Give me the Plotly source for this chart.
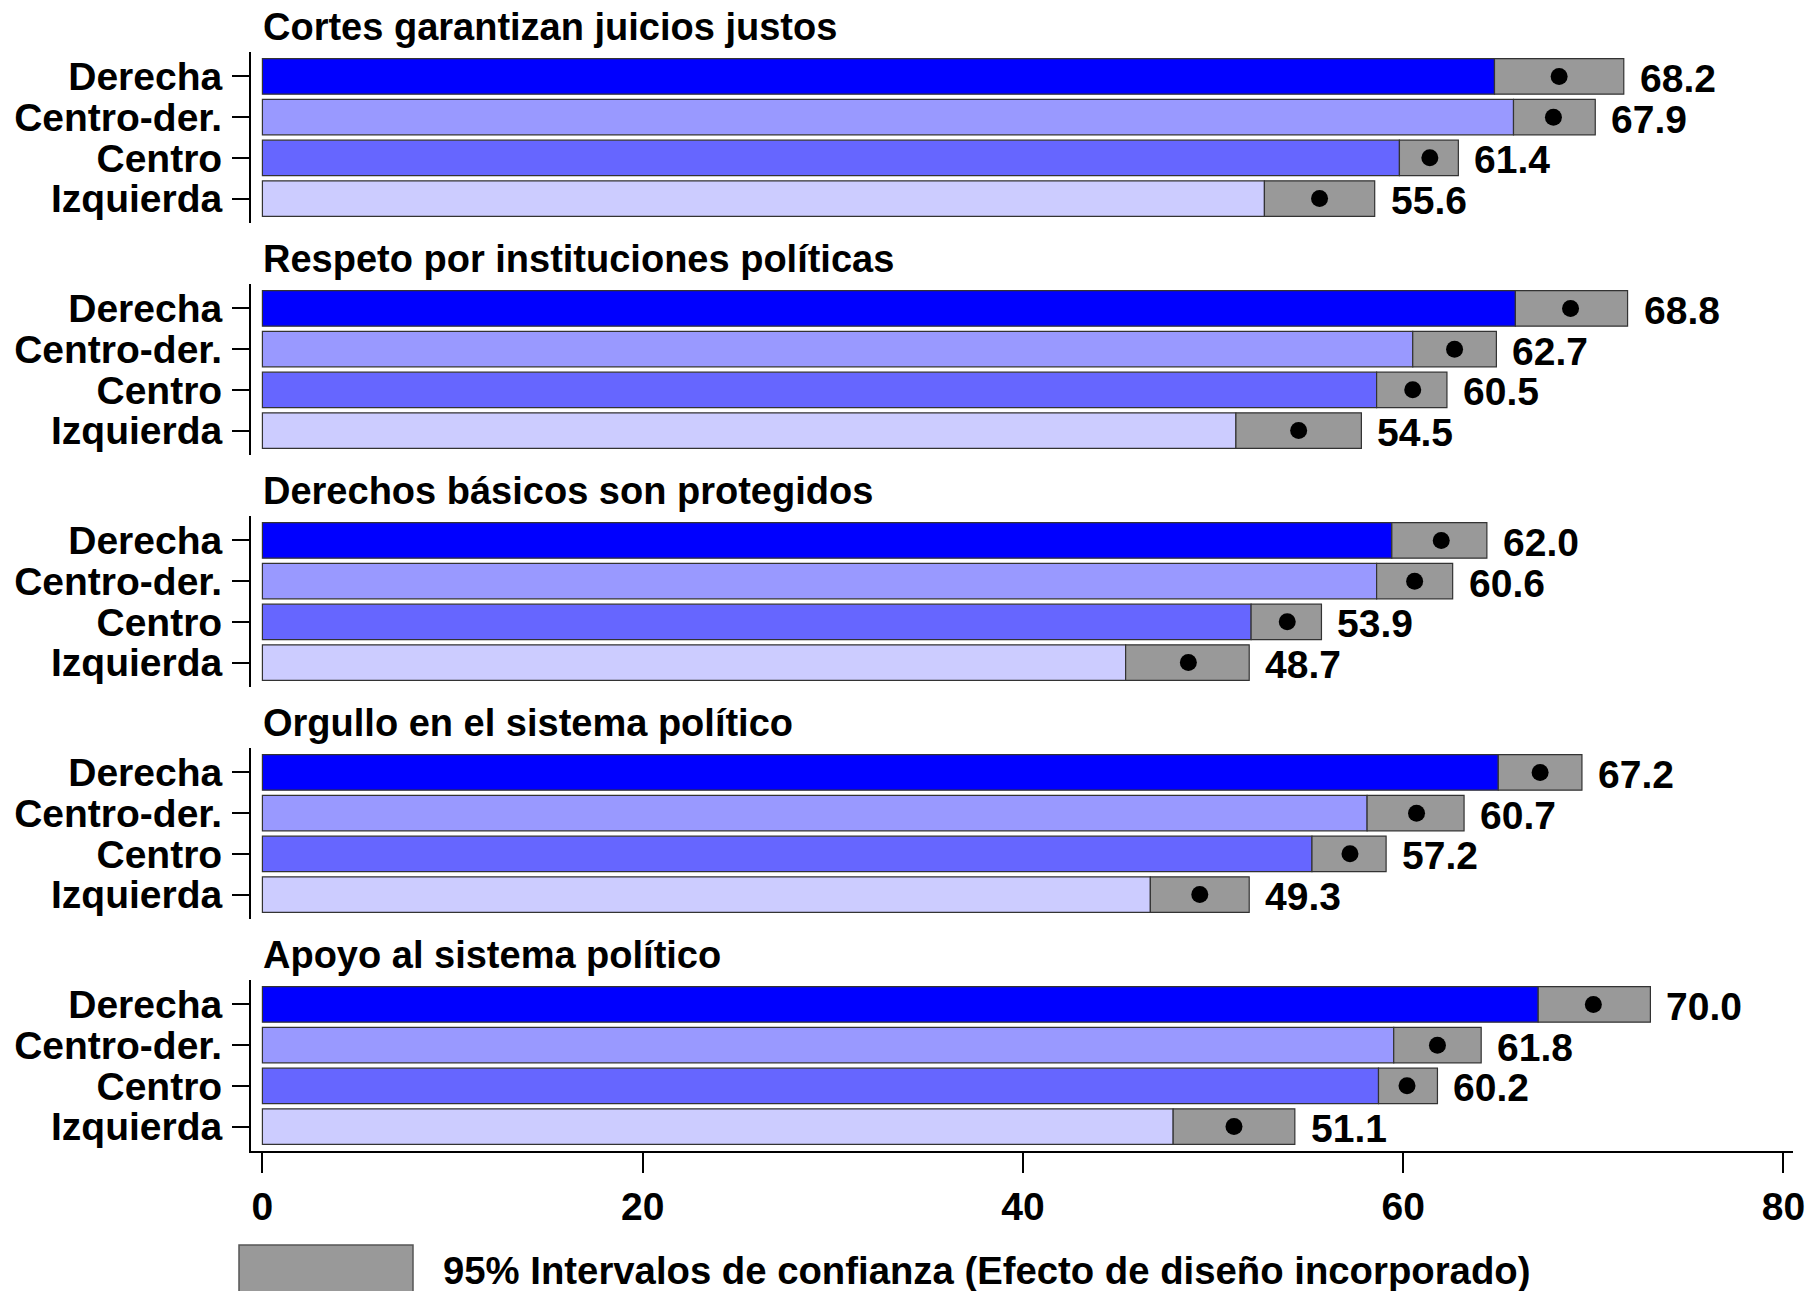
import plotly.graph_objects as go

groups = ["Derecha", "Centro-der.", "Centro", "Izquierda"]
titles = ["Cortes garantizan juicios justos",
          "Respeto por instituciones políticas",
          "Derechos básicos son protegidos",
          "Orgullo en el sistema político",
          "Apoyo al sistema político"]

mean_cortes = [68.2, 67.9, 61.4, 55.6]
mean_respeto = [68.8, 62.7, 60.5, 54.5]
mean_derechos = [62.0, 60.6, 53.9, 48.7]
mean_orgullo = [67.2, 60.7, 57.2, 49.3]
mean_apoyo = [70.0, 61.8, 60.2, 51.1]

low_cortes = [64.8, 65.8, 59.8, 52.7]
low_respeto = [65.9, 60.5, 58.6, 51.2]
low_derechos = [59.4, 58.6, 52.0, 45.4]
low_orgullo = [65.0, 58.1, 55.2, 46.7]
low_apoyo = [67.1, 59.5, 58.7, 47.9]

up_cortes = [71.6, 70.1, 62.9, 58.5]
up_respeto = [71.8, 64.9, 62.3, 57.8]
up_derechos = [64.4, 62.6, 55.7, 51.9]
up_orgullo = [69.4, 63.2, 59.1, 51.9]
up_apoyo = [73.0, 64.1, 61.8, 54.3]

x_ticks = [0, 20, 40, 60, 80]
legend_label = "95% Intervalos de confianza (Efecto de diseño incorporado)"

means = [mean_cortes, mean_respeto, mean_derechos, mean_orgullo, mean_apoyo]
lows = [low_cortes, low_respeto, low_derechos, low_orgullo, low_apoyo]
ups = [up_cortes, up_respeto, up_derechos, up_orgullo, up_apoyo]

colors = ["#0000FF", "#9999FF", "#6666FF", "#CCCCFF"]
gray = "#999999"
FONT = "Arial, Liberation Sans, sans-serif"
FS = 39

W, H = 1808, 1291
mt, ml, mr = 52, 251, 15
panel_h = 171
pitch = 232
plot_h = 4 * pitch + panel_h
mb = H - mt - plot_h

fig = go.Figure()
layout = dict(
    template="none",
    width=W, height=H,
    margin=dict(l=ml, r=mr, t=mt, b=mb, pad=0, autoexpand=False),
    paper_bgcolor="white", plot_bgcolor="white",
    font=dict(family=FONT, size=FS, color="black", weight="bold"),
    showlegend=False, barmode="overlay",
)
annotations = []
shapes = []

for i in range(5):
    n = "" if i == 0 else str(i + 1)
    xa, ya = "x" + n, "y" + n
    top = 1 - i * pitch / plot_h
    bot = top - panel_h / plot_h
    fig.add_trace(go.Bar(
        y=groups, x=lows[i], base=0, orientation="h", width=0.87,
        marker=dict(color=colors, line=dict(color="#333333", width=1.2)),
        xaxis=xa, yaxis=ya, hoverinfo="skip"))
    fig.add_trace(go.Bar(
        y=groups, x=[u - l for u, l in zip(ups[i], lows[i])], base=lows[i],
        orientation="h", width=0.87,
        marker=dict(color=gray, line=dict(color="#333333", width=1.2)),
        xaxis=xa, yaxis=ya, hoverinfo="skip"))
    fig.add_trace(go.Scatter(
        y=groups, x=means[i], mode="markers",
        marker=dict(color="black", size=17, line=dict(width=0)),
        xaxis=xa, yaxis=ya, hoverinfo="skip"))
    for g, u, m in zip(groups, ups[i], means[i]):
        annotations.append(dict(
            x=u, y=g, xref=xa, yref=ya, xanchor="left", yanchor="middle",
            xshift=14, yshift=-2, text=f"{m:.1f}", showarrow=False,
            font=dict(size=FS, family=FONT, weight="bold")))
    annotations.append(dict(
        x=0, y=top, xref=xa, yref="paper", xanchor="left", yanchor="middle",
        yshift=25, text=titles[i], showarrow=False, borderpad=0,
        font=dict(size=38, family=FONT, weight="bold")))

    last = (i == 4)
    layout["xaxis" + n] = dict(
        domain=[0, 1], range=[-0.6, 80.5], anchor=ya, automargin=False,
        showgrid=False, zeroline=False,
        showline=last, linecolor="black", linewidth=2,
        ticks="outside" if last else "", ticklen=20, tickwidth=2, tickcolor="black",
        tickmode="array", tickvals=x_ticks, showticklabels=last,
        tickfont=dict(size=FS, family=FONT, weight="bold"),
        ticklabelstandoff=0,
        matches=None if i == 0 else "x",
    )
    layout["yaxis" + n] = dict(
        domain=[bot, top], anchor=xa, type="category", automargin=False,
        categoryorder="array", categoryarray=groups,
        tickmode="array", tickvals=groups, ticktext=groups,
        range=[3.6, -0.6], showgrid=False, zeroline=False,
        showline=True, linecolor="black", linewidth=2,
        ticks="outside", ticklen=17, tickwidth=2, tickcolor="black",
        tickfont=dict(size=FS, family=FONT, weight="bold"),
        ticklabelstandoff=2,
    )

px_w = W - ml - mr
def xp(px):
    return (px - ml) / px_w
def yp(py):
    return (H - mb - py) / plot_h

shapes.append(dict(type="rect", xref="paper", yref="paper",
                   x0=xp(239), x1=xp(413), y0=yp(1245), y1=yp(1300),
                   fillcolor=gray, line=dict(color="#555555", width=1.5)))
annotations.append(dict(x=xp(442), y=yp(1270), xref="paper", yref="paper",
                        xanchor="left", yanchor="middle", text=legend_label,
                        showarrow=False, borderpad=0,
                        font=dict(size=38.3, family=FONT, weight="bold")))

layout["annotations"] = annotations
layout["shapes"] = shapes
fig.update_layout(**layout)
fig.write_html("out.html",
               config={"displayModeBar": False, "staticPlot": True},
               post_script="document.body.style.margin='0';"
                           "document.documentElement.style.overflow='hidden';")
